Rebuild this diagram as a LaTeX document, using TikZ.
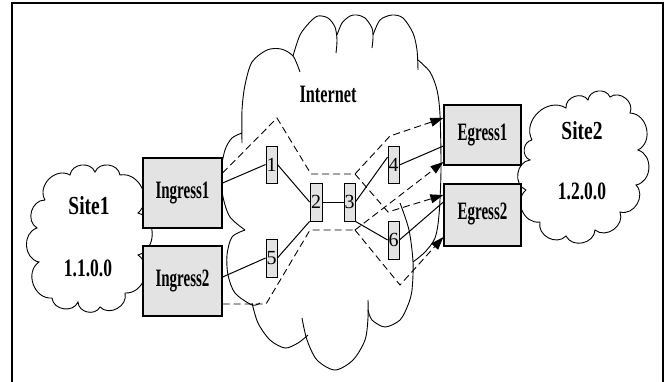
\documentclass[tikz,border=0pt]{standalone}
\usepackage{fontspec}
\setmainfont{Liberation Serif}
\newfontfamily\boxfont[FakeStretch=0.6]{Liberation Serif}
\newfontfamily\netfont[FakeStretch=0.65]{Liberation Serif}
\newfontfamily\sitefont[FakeStretch=0.75]{Liberation Serif}
\newfontfamily\addrfont[FakeStretch=0.7]{Liberation Serif}
\usetikzlibrary{arrows.meta,calc}
\begin{document}
\begin{tikzpicture}[x=1pt,y=-1pt,
  box/.style={draw, line width=1.2pt, fill=black!11, minimum width=79pt, minimum height=70pt, inner sep=0pt, font=\boxfont\bfseries\fontsize{25}{25}\selectfont},
  rtr/.style={draw, line width=0.8pt, fill=black!11, minimum width=11pt, minimum height=37pt, inner sep=0pt, font=\fontsize{20}{20}\selectfont},
  link/.style={line width=1pt},
  dlink/.style={line width=0.9pt, dash pattern=on 7pt off 4pt},
  arr/.style={-{Triangle[length=13pt,width=9pt]}},
  cloudline/.style={line width=0.9pt},
  bump/.style={bend left=75, looseness=1.2},
  ttl/.style={font=\netfont\bfseries\fontsize{25}{25}\selectfont, inner sep=0pt},
  addr/.style={font=\addrfont\bfseries\fontsize{25}{25}\selectfont, inner sep=0pt},
  site/.style={font=\sitefont\bfseries\fontsize{26}{26}\selectfont, inner sep=0pt}]
\useasboundingbox (0,0) rectangle (667,381);
% frame
\draw[line width=1.5pt] (12,382) -- (12,3) -- (663,3) -- (663,382);
% Internet cloud
\begin{scope}[cloudline]
\draw plot[smooth] coordinates {(242,143) (242,110) (245,85) (252,62) (267,50) (281,49) (293,56) (300,72)};
\draw plot[smooth] coordinates {(293,56) (300,35) (310,22) (318,16) (328,18) (335,27) (337,40) (336,53)};
\draw plot[smooth] coordinates {(337,35) (342,23) (350,16) (357,15) (365,18) (372,28) (373,38) (372,48)};
\draw plot[smooth] coordinates {(373,35) (380,20) (392,15) (403,18) (413,33) (417,50) (418,70)};
\draw plot[smooth] coordinates {(418,60) (430,72) (437,90) (440,115) (441,170) (439,215) (435,238) (425,252) (413,262)};
\draw plot[smooth] coordinates {(400,203) (409,230) (413,262) (412,290) (408,305) (400,320) (385,327) (372,320) (368,310)};
\draw plot[smooth] coordinates {(302,318) (307,340) (317,360) (335,370) (353,360) (365,340) (368,318) (368,300)};
\draw plot[smooth] coordinates {(252,303) (258,323) (270,340) (285,348) (298,343) (308,335)};
\draw plot[smooth] coordinates {(245,230) (232,237) (227,255) (228,275) (235,293) (252,305) (260,303)};
\draw plot[smooth] coordinates {(242,133) (232,138) (225,150) (221,172) (223,197) (230,217) (245,230)};
% Site1 cloud
\draw (45,200) to[bump] (70,175) to[bump] (95,172) to[bump] (120,175) to[bump] (138,213)
  to[bump] (138,255) to[bump] (125,293) to[bump] (100,307) to[bump] (78,302) to[bump] (52,298)
  to[bump] (39,262) to[bump] (37,228) to[bump] (45,200);
% Site2 cloud
\draw (532,140) to[bump] (566,108) to[bump] (588,100) to[bump] (610,97) to[bump] (630,113)
  to[bump] (638,150) to[bump] (636,185) to[bump] (620,212) to[bump] (595,230) to[bump] (566,236)
  to[bump] (540,222) to[bump] (526,190) to[bump] (530,160) to[bump] (532,140);
\end{scope}
% boxes
\node[box] (in1) at (182.5,193) {Ingress1};
\node[box] (in2) at (182.5,281) {Ingress2};
\node[box, minimum width=77pt, minimum height=60pt] (e1) at (482.5,135) {Egress1};
\node[box, minimum width=77pt, minimum height=62pt] (e2) at (482.5,215) {\raisebox{8pt}{Egress2}};
% routers
\node[rtr] (r1) at (271.5,164.5) {1};
\node[rtr, minimum width=12pt, minimum height=38pt] (r2) at (316,202) {2};
\node[rtr, minimum height=38pt] (r3) at (349.5,202) {3};
\node[rtr] (r4) at (393.5,165) {4};
\node[rtr, minimum height=38pt] (r5) at (271.5,258) {5};
\node[rtr, minimum height=38pt] (r6) at (393.5,240) {6};
% texts
\node[ttl] (inet) at (328,94) {Internet};
\node[site] (s1) at (89,206) {Site1};
\node[addr] (a1) at (88,268) {1.1.0.0};
\node[site] (s2) at (582,131) {Site2};
\node[addr] (a2) at (582,191) {1.2.0.0};
% solid links
\draw[link] ([yshift=10pt]in1.east) -- (r1.west);
\draw[link] (r1.east) -- (r2.west);
\draw[link] (r2.east) -- (r3.west);
\draw[link] (r2.south west) -- (r5.east);
\draw[link] (r5.west) -- ([yshift=4pt]in2.east);
\draw[link] (r3.east) -- ([yshift=8pt]r4.west);
\draw[link] (r4.east) -- ([yshift=-11pt]e1.west);
\draw[link] (r3.south east) -- (r6.west);
\draw[link] (r6.east) -- ([yshift=13pt]e2.west);
% dashed paths
\coordinate (pk) at (277,118);
\coordinate (u1) at (311,174);
\coordinate (u2) at (355,174);
\coordinate (u3) at (390,136);
\coordinate (u4) at (388,212);
\coordinate (l1) at (266,304);
\coordinate (l2) at (310,230);
\coordinate (l3) at (355,230);
\coordinate (l4) at (400,285);
\draw[dlink,arr] ([yshift=20pt]in1.east) -- (pk) -- (u1) -- (u2) -- (u3) -- ([yshift=17pt]e1.west);
\draw[dlink,arr] (u2) -- (u4) -- ([yshift=20pt]e2.west);
\draw[dlink] ([yshift=-23pt]in2.east) -- (l1) -- (l2) -- (l3);
\draw[dlink,arr] (l3) -- ([yshift=-27pt]e1.west);
\draw[dlink,arr] (l3) -- (l4) -- ([yshift=-22pt]e2.west);
\end{tikzpicture}
\end{document}
